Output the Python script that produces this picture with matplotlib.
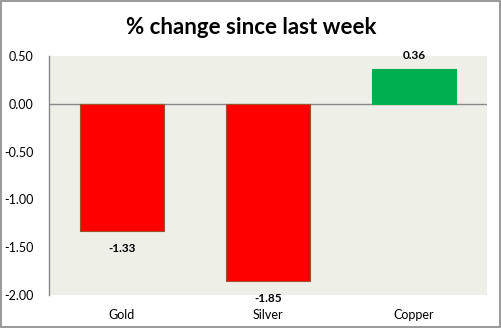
import matplotlib
matplotlib.use("Agg")
import matplotlib.pyplot as plt
from matplotlib.patches import Rectangle

categories = ["Gold", "Silver", "Copper"]
values = [-1.33, -1.85, 0.36]
colors = ["#FF0000", "#FF0000", "#00B050"]
edges = ["#A0522D", "#A0522D", "#00B050"]
yticks = [0.50, 0.00, -0.50, -1.00, -1.50, -2.00]

plt.rcParams['font.family'] = ['Lato', 'DejaVu Sans']

fig = plt.figure(figsize=(5.02, 3.28), dpi=100)
fig.patch.set_facecolor("white")
ax = fig.add_axes([49/502, 1-295/328, (487-49)/502, (295-56)/328])
ax.set_facecolor("#EEF0E8")

x = range(len(categories))
ax.bar(x, values, width=0.57, color=colors, edgecolor=edges, linewidth=0.8, zorder=3)
ax.axhline(0, color="#878787", linewidth=1.0, zorder=2)

ax.set_xlim(-0.5, 2.5)
ax.set_ylim(-2.0, 0.5)
ax.set_yticks(yticks)
ax.set_yticklabels([f"{v:.2f}" for v in yticks], fontsize=9)
ax.set_xticks(list(x))
ax.set_xticklabels(categories, fontsize=9)
ax.tick_params(axis="both", length=0)
ax.tick_params(axis="y", pad=11)
ax.tick_params(axis="x", pad=10)

for s in ["top", "right", "bottom"]:
    ax.spines[s].set_visible(False)
ax.spines["left"].set_color("#878787")
ax.spines["left"].set_linewidth(1.0)

for i, v in enumerate(values):
    if v < 0:
        ax.annotate(f"{v:.2f}", (i, v), xytext=(0, -9), textcoords="offset points",
                    ha="center", va="top", fontsize=8.5, fontweight="bold")
    else:
        ax.annotate(f"{v:.2f}", (i, v), xytext=(0, 6), textcoords="offset points",
                    ha="center", va="bottom", fontsize=8.5, fontweight="bold")

fig.text(0.5, 1-27/328, "% change since last week", ha="center", va="center",
         fontsize=16, fontweight="bold")

fig.add_artist(Rectangle((0.001, 0.002), 0.996, 0.995, transform=fig.transFigure,
                         fill=False, edgecolor="#878787", linewidth=1.2))

fig.savefig("out.png", dpi=100)
